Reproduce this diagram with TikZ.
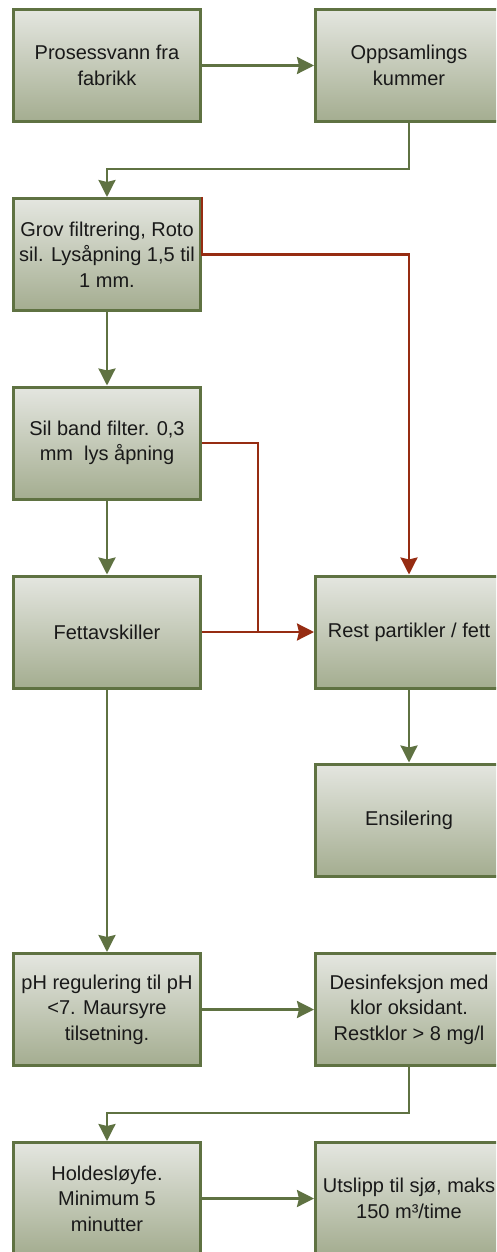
\documentclass[tikz,border=0pt]{standalone}
\usepackage{fontspec}
\setmainfont{Liberation Sans}
\usetikzlibrary{arrows.meta}
\definecolor{boxedge}{HTML}{5F7242}
\definecolor{boxtop}{HTML}{E4E6E0}
\definecolor{boxbot}{HTML}{A4AD90}
\definecolor{flowgreen}{HTML}{5F7242}
\definecolor{flowred}{HTML}{962C12}
\tikzset{
  procbox/.style={rectangle, draw=boxedge, line width=3pt,
    top color=boxtop, bottom color=boxbot,
    minimum width=187pt, minimum height=112pt, inner sep=0pt,
    align=center, font=\fontsize{20}{25.5}\selectfont, text=black!90},
  flow/.style={draw=flowgreen, line width=2.5pt,
    -{Stealth[length=17pt,width=17pt,inset=2pt]}},
  reject/.style={draw=flowred, line width=2.5pt},
  rejectarrow/.style={reject, -{Stealth[length=17pt,width=17pt,inset=2pt]}}
}
\begin{document}
\begin{tikzpicture}[x=1pt,y=-1pt]
  \useasboundingbox (0,0) rectangle (496,1252);
  \clip (0,0) rectangle (496,1252);

  % process steps
  \node[procbox] (b1) at (107,65.5) {Prosessvann fra\\fabrikk};
  \node[procbox] (b2) at (409,65.5) {Oppsamlings\\kummer};
  \node[procbox] (b3) at (107,254.5) {Grov filtrering, Roto\\sil. Lysåpning 1,5 til\\1 mm.};
  \node[procbox] (b4) at (107,443) {Sil band filter. 0,3\\mm\ \ lys åpning};
  \node[procbox] (b5) at (107,632) {Fettavskiller};
  \node[procbox] (rest) at (409,632) {Rest partikler / fett};
  \node[procbox] (ens) at (409,820) {Ensilering};
  \node[procbox] (ph) at (107,1009.5) {pH regulering til pH\\<7. Maursyre\\tilsetning.};
  \node[procbox] (des) at (409,1009.5) {Desinfeksjon med\\klor oksidant.\\Restklor > 8 mg/l};
  \node[procbox] (hold) at (107,1198.5) {Holdesløyfe.\\Minimum 5\\minutter};
  \node[procbox] (uts) at (409,1198.5) {Utslipp til sjø, maks\\150 m³/time};

  % main water flow
  \draw[flow] (b1) -- (b2);
  \draw[flow] (b2.south) -- ++(0,46) -| (b3.north);
  \draw[flow] (b3) -- (b4);
  \draw[flow] (b4) -- (b5);
  \draw[flow] (b5) -- (ph);
  \draw[flow] (ph) -- (des);
  \draw[flow] (des.south) -- ++(0,46) -| (hold.north);
  \draw[flow] (hold) -- (uts);
  \draw[flow] (rest) -- (ens);

  % separated particles and fat
  \coordinate (jn) at (258,632);
  \draw[rejectarrow] (b3.north east) -- (b3.east) -| (rest.north);
  \draw[reject] (b4.east) -| (jn);
  \draw[rejectarrow] (b5.east) -- (rest.west);
\end{tikzpicture}
\end{document}
